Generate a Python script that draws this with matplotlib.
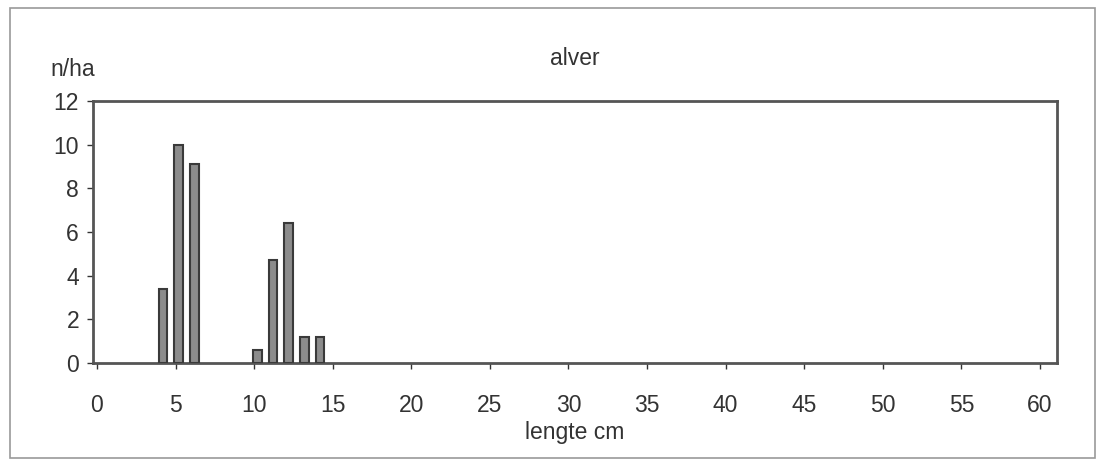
import matplotlib
matplotlib.use("Agg")
import matplotlib.pyplot as plt
from matplotlib.patches import Rectangle

plt.rcParams['font.family'] = ['Liberation Sans', 'DejaVu Sans']

lengths = [4, 5, 6, 10, 11, 12, 13, 14]
counts = [3.4, 10.0, 9.1, 0.6, 4.7, 6.4, 1.2, 1.2]
x_ticks = list(range(0, 61, 5))
y_ticks = list(range(0, 13, 2))

fig = plt.figure(figsize=(11.02, 4.66), dpi=100)
ax = fig.add_axes([0.0844, 0.221, 0.875, 0.562])

ax.bar([v + 0.2 for v in lengths], counts, width=0.55,
       color='#8c8c8c', edgecolor='#3a3a3a', linewidth=1.5, zorder=3)

ax.set_xlim(-0.25, 61.1)
ax.set_ylim(0, 12)
ax.set_xticks(x_ticks)
ax.set_yticks(y_ticks)
ax.tick_params(axis='both', labelsize=16.5, colors='#333333', length=4,
               width=1, direction='out')
ax.tick_params(axis='x', pad=18)
ax.tick_params(axis='y', pad=6)
for s in ax.spines.values():
    s.set_color('#555555')
    s.set_linewidth(2)

ax.set_title('alver', fontsize=16.5, color='#333333', pad=26)
fig.text(0.066, 0.85, 'n/ha', fontsize=16.5, color='#333333',
         ha='center', va='center')
ax.set_xlabel('lengte cm', fontsize=16.5, color='#333333', labelpad=3)

fig.patches.append(Rectangle((0.009, 0.017), 0.985, 0.966,
                             transform=fig.transFigure, fill=False,
                             edgecolor='#999999', linewidth=1.2))

fig.savefig('out.png', dpi=100, facecolor='white')
